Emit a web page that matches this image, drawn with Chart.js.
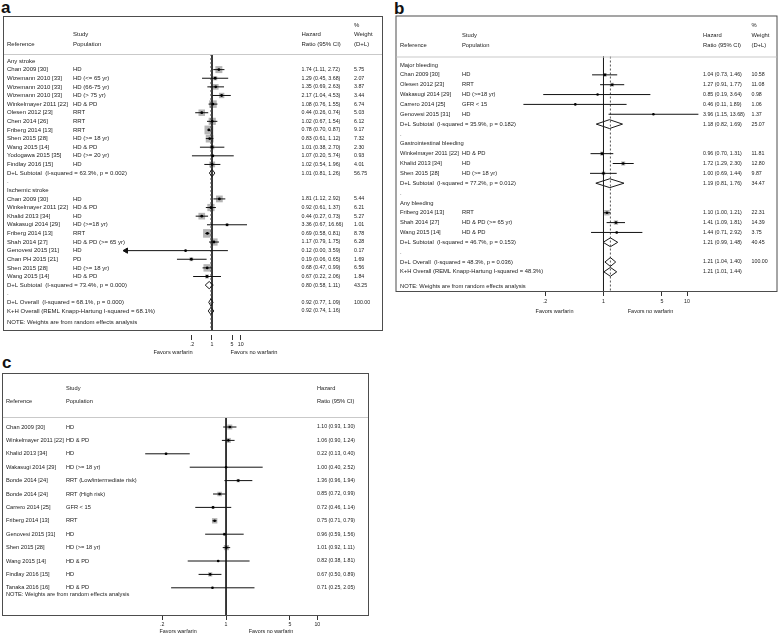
<!DOCTYPE html>
<html>
<head>
<meta charset="utf-8">
<script src="https://cdn.jsdelivr.net/npm/chart.js@4.4.1/dist/chart.umd.min.js"></script>
<style>
  body { margin: 0; background: #fff; width: 778px; height: 636px; position: relative; overflow: hidden; }
  canvas { position: absolute; left: 0; top: 0; }
  .tag { position: absolute; font: bold 17px 'Liberation Sans', Arial, sans-serif; line-height: 17px; color: #111; }
</style>
</head>
<body>
<div class="tag" style="left:1px;top:-1px">a</div>
<div class="tag" style="left:394px;top:0px">b</div>
<div class="tag" style="left:2px;top:354px">c</div>
<canvas id="chartA" width="778" height="636"></canvas>
<canvas id="chartB" width="778" height="636"></canvas>
<canvas id="chartC" width="778" height="636"></canvas>
<script>
// ---- data: panel a (stroke) ----
const aKind = ["g","s","s","s","s","s","s","s","s","s","s","s","s","d","b",
               "g","s","s","s","s","s","s","s","s","s","s","d","b","d","k"];
const aRef = ["Any stroke", "Chan 2009 [30]", "Wizemann 2010 [33]", "Wizemann 2010 [33]", "Wizemann 2010 [33]",
  "Winkelmayer 2011 [22]", "Olesen 2012 [23]", "Chen 2014 [26]", "Friberg 2014 [13]", "Shen 2015 [28]",
  "Wang 2015 [14]", "Yodogawa 2015 [35]", "Findlay 2016 [15]",
  "D+L Subtotal  (I-squared = 63.3%, p = 0.002)", ".",
  "Ischemic stroke", "Chan 2009 [30]", "Winkelmayer 2011 [22]", "Khalid 2013 [34]", "Wakasugi 2014 [29]",
  "Friberg 2014 [13]", "Shah 2014 [27]", "Genovesi 2015 [31]", "Chan PH 2015 [21]", "Shen 2015 [28]",
  "Wang 2015 [14]", "D+L Subtotal  (I-squared = 73.4%, p = 0.000)", ".",
  "D+L Overall  (I-squared = 68.1%, p = 0.000)", "K+H Overall (REML Knapp-Hartung I-squared = 68.1%)"];
const aPop = ["", "HD", "HD (<= 65 yr)", "HD (66-75 yr)", "HD (> 75 yr)", "HD & PD", "RRT", "RRT", "RRT",
  "HD (>= 18 yr)", "HD & PD", "HD (>= 20 yr)", "HD", "", "",
  "", "HD", "HD & PD", "HD", "HD (>=18 yr)", "RRT", "HD & PD (>= 65 yr)", "HD", "PD", "HD (>= 18 yr)",
  "HD & PD", "", "", "", ""];
const aHR = [null, 1.74, 1.29, 1.35, 2.17, 1.08, 0.44, 1.02, 0.78, 0.83, 1.01, 1.07, 1.02, 1.01, null,
  null, 1.81, 0.92, 0.44, 3.36, 0.69, 1.17, 0.12, 0.19, 0.68, 0.67, 0.80, null, 0.92, 0.92];
const aLo = [null, 1.11, 0.45, 0.69, 1.04, 0.76, 0.26, 0.67, 0.70, 0.61, 0.38, 0.20, 0.54, 0.81, null,
  null, 1.12, 0.61, 0.27, 0.67, 0.58, 0.79, 0.00, 0.06, 0.47, 0.22, 0.58, null, 0.77, 0.74];
const aHi = [null, 2.72, 3.68, 2.63, 4.53, 1.55, 0.74, 1.54, 0.87, 1.12, 2.70, 5.74, 1.96, 1.26, null,
  null, 2.92, 1.37, 0.73, 16.66, 0.81, 1.75, 3.59, 0.65, 0.99, 2.06, 1.11, null, 1.09, 1.16];
const aWeight = [null, 5.75, 2.07, 3.87, 3.44, 6.74, 5.03, 6.12, 9.17, 7.32, 2.30, 0.93, 4.01, 56.75, null,
  null, 5.44, 6.21, 5.27, 1.01, 8.78, 6.28, 0.17, 1.69, 6.56, 1.84, 43.25, null, 100.00, null];
const aOverall = 0.92;

// ---- data: panel b (bleeding) ----
const bKind = ["g","s","s","s","s","s","d","b","g","s","s","s","d","b","g","s","s","s","d","b","d","k"];
const bRef = ["Major bleeding", "Chan 2009 [30]", "Olesen 2012 [23]", "Wakasugi 2014 [29]", "Carrero 2014 [25]",
  "Genovesi 2015 [31]", "D+L Subtotal  (I-squared = 35.9%, p = 0.182)", ".",
  "Gastrointestinal bleeding", "Winkelmayer 2011 [22]", "Khalid 2013 [34]", "Shen 2015 [28]",
  "D+L Subtotal  (I-squared = 77.2%, p = 0.012)", ".",
  "Any bleeding", "Friberg 2014 [13]", "Shah 2014 [27]", "Wang 2015 [14]",
  "D+L Subtotal  (I-squared = 46.7%, p = 0.153)", ".",
  "D+L Overall  (I-squared = 48.3%, p = 0.036)", "K+H Overall (REML Knapp-Hartung I-squared = 48.3%)"];
const bPop = ["", "HD", "RRT", "HD (>=18 yr)", "GFR < 15", "HD", "", "",
  "", "HD & PD", "HD", "HD (>= 18 yr)", "", "",
  "", "RRT", "HD & PD (>= 65 yr)", "HD & PD", "", "", "", ""];
const bHR = [null, 1.04, 1.27, 0.85, 0.46, 3.96, 1.18, null, null, 0.96, 1.72, 1.00, 1.19, null,
  null, 1.10, 1.41, 1.44, 1.21, null, 1.21, 1.21];
const bLo = [null, 0.73, 0.91, 0.19, 0.11, 1.15, 0.82, null, null, 0.70, 1.29, 0.69, 0.81, null,
  null, 1.00, 1.09, 0.71, 0.99, null, 1.04, 1.01];
const bHi = [null, 1.46, 1.77, 3.64, 1.89, 13.68, 1.69, null, null, 1.31, 2.30, 1.44, 1.76, null,
  null, 1.21, 1.81, 2.92, 1.48, null, 1.40, 1.44];
const bWeight = [null, 10.58, 11.08, 0.98, 1.06, 1.37, 25.07, null, null, 11.81, 12.80, 9.87, 34.47, null,
  null, 22.31, 14.39, 3.75, 40.45, null, 100.00, null];
const bOverall = 1.21;

// ---- data: panel c (mortality) ----
const cKind = ["s","s","s","s","s","s","s","s","s","s","s","s","s"];
const cRef = ["Chan 2009 [30]", "Winkelmayer 2011 [22]", "Khalid 2013 [34]", "Wakasugi 2014 [29]",
  "Bonde 2014 [24]", "Bonde 2014 [24]", "Carrero 2014 [25]", "Friberg 2014 [13]", "Genovesi 2015 [31]",
  "Shen 2015 [28]", "Wang 2015 [14]", "Findlay 2016 [15]", "Tanaka 2016 [16]"];
const cPop = ["HD", "HD & PD", "HD", "HD (>= 18 yr)", "RRT (Low/intermediate risk)", "RRT (High risk)",
  "GFR < 15", "RRT", "HD", "HD (>= 18 yr)", "HD & PD", "HD", "HD & PD"];
const cHR = [1.10, 1.06, 0.22, 1.00, 1.36, 0.85, 0.72, 0.75, 0.96, 1.01, 0.82, 0.67, 0.71];
const cLo = [0.93, 0.90, 0.13, 0.40, 0.96, 0.72, 0.46, 0.71, 0.59, 0.92, 0.38, 0.50, 0.25];
const cHi = [1.30, 1.24, 0.40, 2.52, 1.94, 0.99, 1.14, 0.79, 1.56, 1.11, 1.81, 0.89, 2.05];
// weights are not printed in panel c; estimated from the square sizes
const cWeight = [11, 11, 3, 2, 5, 9, 4, 13, 4, 12, 2, 8, 2];

// axis ticks shared by all three panels
const tickValues = [0.2, 1, 5, 10];
const tickLabels = [".2", "1", "5", "10"];
const favorsText = ["Favors warfarin", "Favors no warfarin"];
const noteText = "NOTE: Weights are from random effects analysis";

const FONT = "'Liberation Sans', Arial, sans-serif";
const PAGE_H = 636;
const PAGE_W = 778;
const AXIS_H = 12;

// ---- panel layout ----
const panels = [
  {
    canvas: "chartA", kind: aKind, ref: aRef, pop: aPop, hr: aHR, lo: aLo, hi: aHi, weight: aWeight,
    overall: aOverall, showWeight: true,
    xMin: 0.001, xMax: 16.66, left: 126, right: 247,
    firstRow: 61, rowStep: 8.62, sepY: 54,
    box: { l: 3, t: 16, r: 382, b: 330 },
    cols: { ref: 7, pop: 73, hr: 301.5, wt: 354 },
    header: [["%", "wt", 25], ["Study", "pop", 34.5], ["Hazard", "hr", 34.5], ["Weight", "wt", 34.5],
             ["Reference", "ref", 44], ["Population", "pop", 44], ["Ratio (95% CI)", "hr", 44], ["(D+L)", "wt", 44]],
    noteRow: 30.3, boxScale: 2.9, diamondHalf: 0.42, dotR: 1.4,
    tickGap: 5, tickPad: 1, favors: [-39, 42, 22], font: 6, numFont: 5.3
  },
  {
    canvas: "chartB", kind: bKind, ref: bRef, pop: bPop, hr: bHR, lo: bLo, hi: bHi, weight: bWeight,
    overall: bOverall, showWeight: true,
    xMin: 0.11, xMax: 13.68, left: 523.4, right: 698.4,
    firstRow: 65, rowStep: 9.85, sepY: 56.5,
    box: { l: 395.5, t: 15.5, r: 776.5, b: 291 },
    cols: { ref: 400, pop: 462, hr: 703, wt: 751.5 },
    header: [["%", "wt", 25], ["Study", "pop", 35.5], ["Hazard", "hr", 35.5], ["Weight", "wt", 35.5],
             ["Reference", "ref", 45], ["Population", "pop", 45], ["Ratio (95% CI)", "hr", 45], ["(D+L)", "wt", 45]],
    noteRow: 22.5, boxScale: 1.15, diamondHalf: 0.45, dotR: 1.3,
    tickGap: 0, tickPad: 2, favors: [-49, 47, 20], font: 5.8, numFont: 5.3
  },
  {
    canvas: "chartC", kind: cKind, ref: cRef, pop: cPop, hr: cHR, lo: cLo, hi: cHi, weight: cWeight,
    overall: null, showWeight: false,
    xMin: 0.13, xMax: 10, left: 145.2, right: 317.3,
    firstRow: 427, rowStep: 13.4, sepY: 417,
    box: { l: 2, t: 373, r: 368, b: 615 },
    cols: { ref: 6, pop: 66, hr: 317 },
    header: [["Study", "pop", 388], ["Hazard", "hr", 388],
             ["Reference", "ref", 401], ["Population", "pop", 401], ["Ratio (95% CI)", "hr", 401]],
    noteRow: 12.52, boxScale: 1.5, diamondHalf: 0.4, dotR: 1.3,
    tickGap: 0, tickPad: 1, favors: [-48, 45, 17], font: 5.7, numFont: 5.2
  }
];

function ciText(p, i) {
  return p.hr[i].toFixed(2) + " (" + p.lo[i].toFixed(2) + ", " + p.hi[i].toFixed(2) + ")";
}

// table text, frame and "favors" labels
function textPlugin(p) {
  return {
    id: "forestText",
    afterDraw(chart) {
      const ctx = chart.ctx;
      const ys = chart.scales.y;
      const xs = chart.scales.x;
      const textFont = p.font + "px " + FONT;
      const numFont = p.numFont + "px " + FONT;
      ctx.save();

      ctx.strokeStyle = "#4d4d4d";
      ctx.lineWidth = 1;
      ctx.strokeRect(p.box.l + 0.5, p.box.t + 0.5, p.box.r - p.box.l, p.box.b - p.box.t);
      ctx.strokeStyle = "#c9c9c9";
      ctx.beginPath();
      ctx.moveTo(p.box.l + 1, p.sepY + 0.5);
      ctx.lineTo(p.box.r, p.sepY + 0.5);
      ctx.stroke();

      ctx.fillStyle = "#222";
      ctx.font = textFont;
      ctx.textBaseline = "middle";
      ctx.textAlign = "left";
      p.header.forEach(function (h) {
        ctx.fillText(h[0], p.cols[h[1]], h[2]);
      });

      p.kind.forEach(function (k, i) {
        const y = ys.getPixelForValue(i);
        ctx.font = textFont;
        ctx.fillText(p.ref[i], p.cols.ref, y);
        if (k === "s") {
          ctx.fillText(p.pop[i], p.cols.pop, y);
        }
        if (k === "s" || k === "d" || k === "k") {
          ctx.font = numFont;
          ctx.fillText(ciText(p, i), p.cols.hr, y);
          if (p.showWeight && p.weight[i] !== null) {
            ctx.fillText(p.weight[i].toFixed(2), p.cols.wt, y);
          }
        }
      });
      ctx.font = textFont;
      ctx.fillText(noteText, p.cols.ref, ys.getPixelForValue(p.noteRow));

      ctx.textAlign = "center";
      ctx.font = (p.font - 0.3) + "px " + FONT;
      const x1 = xs.getPixelForValue(1);
      ctx.fillText(favorsText[0], x1 + p.favors[0], p.box.b + p.favors[2]);
      ctx.fillText(favorsText[1], x1 + p.favors[1], p.box.b + p.favors[2]);
      ctx.restore();
    }
  };
}

function drawPanel(p) {
  const areaBottom = p.box.b + p.tickGap;
  const yMin = (p.sepY - p.firstRow) / p.rowStep;
  const yMax = (areaBottom - p.firstRow) / p.rowStep;
  const yEnd = (p.box.b - p.firstRow) / p.rowStep;

  const squares = [], sizes = [], dots = [], ci = [], diamonds = [], arrows = [];
  p.kind.forEach(function (k, i) {
    if (k === "s") {
      squares.push({ x: p.hr[i], y: i });
      sizes.push(p.boxScale * Math.sqrt(p.weight[i]) / Math.SQRT2);
      dots.push({ x: p.hr[i], y: i });
      const lo = Math.max(p.lo[i], p.xMin);
      ci.push({ x: lo, y: i }, { x: p.hi[i], y: i }, { x: p.hi[i], y: null });
      if (p.lo[i] < p.xMin) {
        arrows.push({ x: p.xMin, y: i });
      }
    } else if (k === "d" || k === "k") {
      const h = p.diamondHalf;
      diamonds.push({ x: p.lo[i], y: i }, { x: p.hr[i], y: i - h }, { x: p.hi[i], y: i },
                    { x: p.hr[i], y: i + h }, { x: p.lo[i], y: i }, { x: p.lo[i], y: null });
    }
  });

  const datasets = [
    { data: squares, pointStyle: "rect", pointRadius: sizes, backgroundColor: "#b5b5b5",
      borderWidth: 0, order: 6 },
    { data: [{ x: 1, y: yMin }, { x: 1, y: yEnd }], showLine: true, borderColor: "#1e1e1e",
      borderWidth: 1, pointRadius: 0, order: 5 },
    { data: ci, showLine: true, borderColor: "#111", borderWidth: 1, pointRadius: 0, order: 3 },
    { data: diamonds, showLine: true, borderColor: "#1a1a1a", borderWidth: 1, pointRadius: 0,
      fill: false, order: 2 },
    { data: dots, pointStyle: "circle", pointRadius: p.dotR, backgroundColor: "#000",
      borderWidth: 0, order: 1 },
    { data: arrows, pointStyle: "triangle", rotation: -90, pointRadius: 3, backgroundColor: "#111",
      borderColor: "#111", borderWidth: 1, order: 1 }
  ];
  if (p.overall !== null) {
    datasets.push({ data: [{ x: p.overall, y: yMin }, { x: p.overall, y: yEnd }], showLine: true,
      borderColor: "#555", borderWidth: 1, borderDash: [2, 2], pointRadius: 0, order: 4 });
  }
  datasets.forEach(function (d) { d.clip = false; });

  new Chart(document.getElementById(p.canvas), {
    type: "scatter",
    data: { datasets: datasets },
    options: {
      responsive: false,
      animation: false,
      events: [],
      layout: {
        padding: { left: p.left, right: PAGE_W - p.right, top: p.sepY, bottom: PAGE_H - AXIS_H - areaBottom }
      },
      plugins: { legend: { display: false }, tooltip: { enabled: false } },
      scales: {
        x: {
          type: "logarithmic",
          bounds: "data",
          min: p.xMin,
          max: p.xMax,
          afterBuildTicks: function (s) {
            s.ticks = tickValues.map(function (v) { return { value: v }; });
          },
          afterFit: function (s) { s.height = AXIS_H; },
          border: { display: false },
          grid: { drawOnChartArea: false, drawTicks: true, tickLength: 5, color: "#333" },
          ticks: {
            autoSkip: false,
            maxRotation: 0,
            padding: p.tickPad,
            color: "#222",
            font: { family: FONT, size: p.numFont },
            callback: function (v, idx) { return tickLabels[idx]; }
          }
        },
        y: { type: "linear", display: false, reverse: true, bounds: "data", min: yMin, max: yMax }
      }
    },
    plugins: [textPlugin(p)]
  });
}

window.addEventListener("DOMContentLoaded", function () {
  panels.forEach(drawPanel);
});
</script>
</body>
</html>
